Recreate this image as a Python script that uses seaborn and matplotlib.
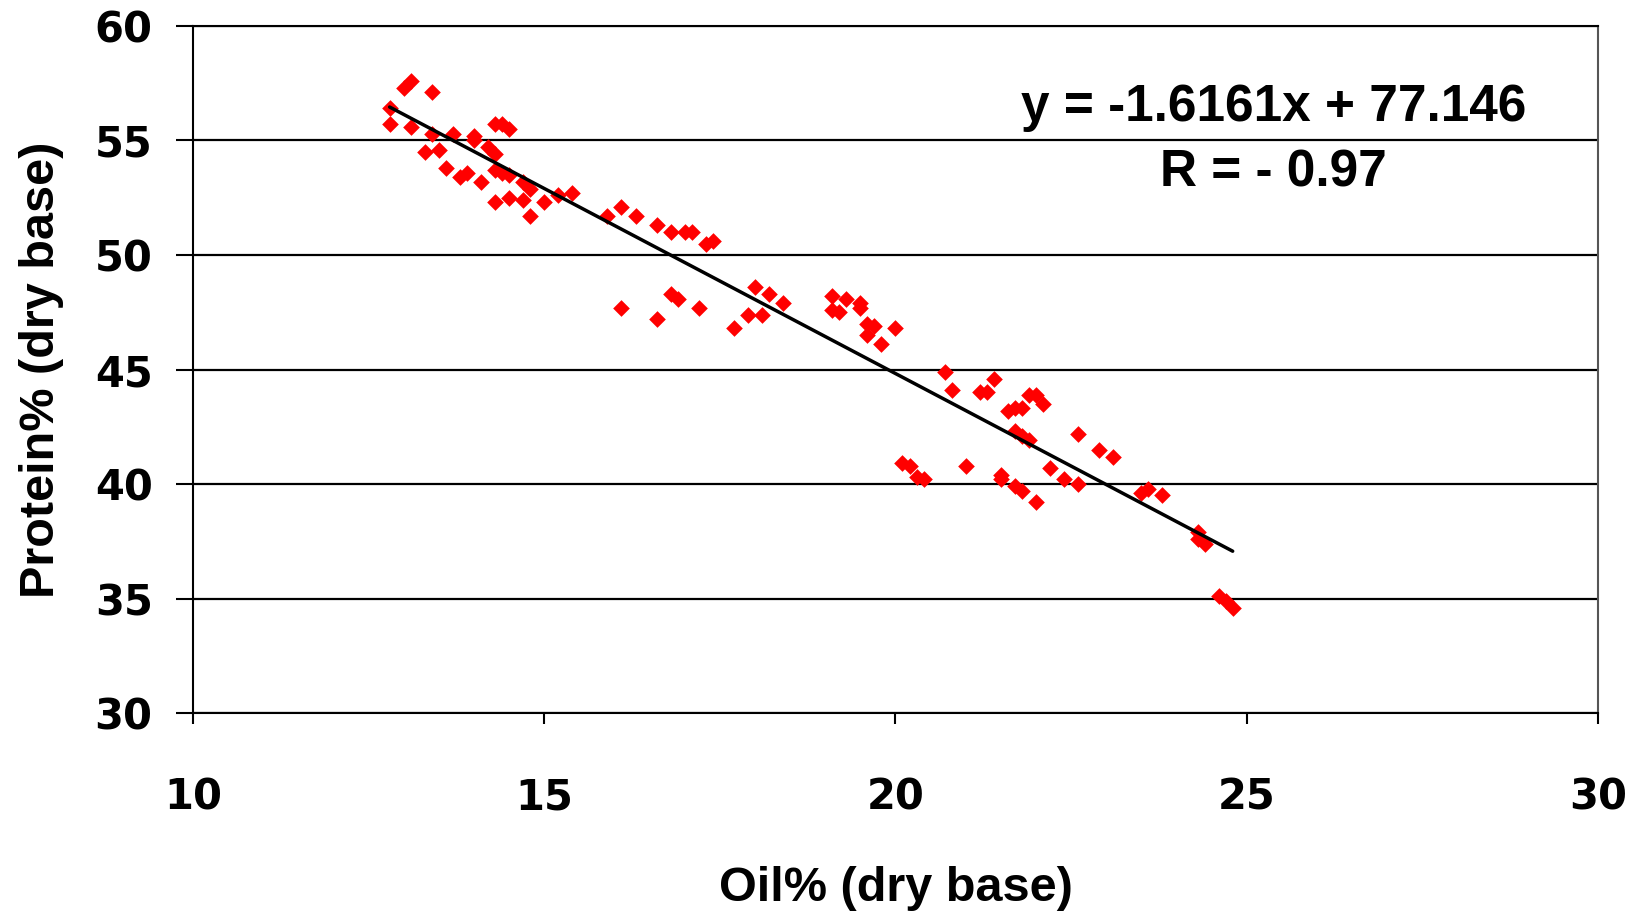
import numpy as np
import pandas as pd
import matplotlib
matplotlib.use("Agg")
import matplotlib.pyplot as plt
import seaborn as sns

# oil% and protein% (dry base)
oil = [12.8, 12.8, 13.0, 13.1, 13.4, 13.1, 13.4, 13.3, 13.5, 13.6,
       13.7, 13.8, 13.9, 14.0, 14.0, 14.1, 14.2, 14.3, 14.3, 14.4,
       14.5, 14.3, 14.4, 14.5, 14.3, 14.5, 14.7, 14.7, 14.8, 14.8,
       15.0, 15.2, 15.4, 15.9, 16.1, 16.3, 16.6, 16.8, 17.0, 17.1,
       17.3, 17.4,
       16.1, 16.6, 16.8, 16.9, 17.2, 17.7, 17.9, 18.0, 18.1, 18.2,
       18.4, 19.1, 19.1, 19.2, 19.3, 19.5, 19.5, 19.6, 19.6, 19.7,
       19.8, 20.0,
       20.1, 20.2, 20.3, 20.4, 20.7, 20.8, 21.0, 21.2, 21.3, 21.4,
       21.5, 21.5, 21.6, 21.7, 21.8, 21.7, 21.8, 21.9, 21.9, 22.0,
       22.1, 21.7, 21.8, 22.0, 22.2, 22.4, 22.6, 22.6, 22.9, 23.1,
       23.5, 23.6, 23.8, 24.3, 24.3, 24.4, 24.6, 24.7, 24.8]
protein = [56.4, 55.7, 57.3, 57.6, 57.1, 55.6, 55.3, 54.5, 54.6, 53.8,
           55.3, 53.4, 53.6, 55.0, 55.2, 53.2, 54.7, 54.4, 55.7, 55.7,
           55.5, 53.7, 53.6, 53.5, 52.3, 52.5, 52.4, 53.2, 51.7, 52.9,
           52.3, 52.6, 52.7, 51.7, 52.1, 51.7, 51.3, 51.0, 51.0, 51.0,
           50.5, 50.6,
           47.7, 47.2, 48.3, 48.1, 47.7, 46.8, 47.4, 48.6, 47.4, 48.3,
           47.9, 48.2, 47.6, 47.5, 48.1, 47.9, 47.7, 47.0, 46.5, 46.9,
           46.1, 46.8,
           40.9, 40.8, 40.3, 40.2, 44.9, 44.1, 40.8, 44.0, 44.0, 44.6,
           40.4, 40.2, 43.2, 43.3, 43.3, 42.3, 42.1, 41.9, 43.9, 43.9,
           43.5, 39.9, 39.7, 39.2, 40.7, 40.2, 40.0, 42.2, 41.5, 41.2,
           39.6, 39.8, 39.5, 37.9, 37.6, 37.4, 35.1, 34.9, 34.6]

# trend line as printed on the chart
slope = -1.6161
intercept = 77.146
r_value = "- 0.97"

x_ticks = [10, 15, 20, 25, 30]
y_ticks = [30, 35, 40, 45, 50, 55, 60]

df = pd.DataFrame({"oil": oil, "protein": protein})
fit_x = np.array([min(oil), max(oil)])
fit = pd.DataFrame({"oil": fit_x, "protein": slope * fit_x + intercept})

sns.set_style("white")
plt.rcParams["font.family"] = ["Liberation Sans", "DejaVu Sans"]
plt.rcParams["text.color"] = "black"
plt.rcParams["axes.labelcolor"] = "black"

fig, ax = plt.subplots(figsize=(16.42, 9.11), dpi=100)
fig.subplots_adjust(left=0.1175, right=0.9732, top=0.9715, bottom=0.2173)

for yv in y_ticks:
    ax.axhline(yv, color="black", lw=1.6, zorder=1)

sns.scatterplot(data=df, x="oil", y="protein", marker="D", s=72,
                color="#ff0000", linewidth=0, ax=ax, zorder=3)
sns.lineplot(data=fit, x="oil", y="protein", color="black", lw=2.5,
             ax=ax, zorder=4)

ax.set_xlim(10, 30)
ax.set_ylim(30, 60)
ax.set_xticks(x_ticks)
ax.set_yticks(y_ticks)
ax.set_xticklabels([str(t) for t in x_ticks], fontfamily="DejaVu Sans",
                   fontweight="bold", fontsize=30)
ax.set_yticklabels([str(t) for t in y_ticks], fontfamily="DejaVu Sans",
                   fontweight="bold", fontsize=30)
ax.tick_params(axis="x", direction="out", length=8, width=1.5, pad=38,
               bottom=True, colors="black")
ax.tick_params(axis="y", direction="out", length=12, width=1.5, pad=17,
               left=True, colors="black")

for side in ["left", "bottom", "right", "top"]:
    ax.spines[side].set_color("black")
    ax.spines[side].set_linewidth(1.5)
ax.spines["right"].set_color("#555555")

ax.set_xlabel("Oil% (dry base)", fontsize=35, fontweight="bold")
ax.set_ylabel("Protein% (dry base)", fontsize=35, fontweight="bold")
ax.xaxis.set_label_coords(0.5, -0.222)
ax.yaxis.set_label_coords(-0.092, 0.5)

ax.text(25.38, 56.45, f"y = {slope}x + {intercept}", ha="center",
        va="center", fontsize=37, fontweight="bold")
ax.text(25.38, 53.6, f"R = {r_value}", ha="center", va="center",
        fontsize=37, fontweight="bold")

fig.savefig("out.png", dpi=100)
